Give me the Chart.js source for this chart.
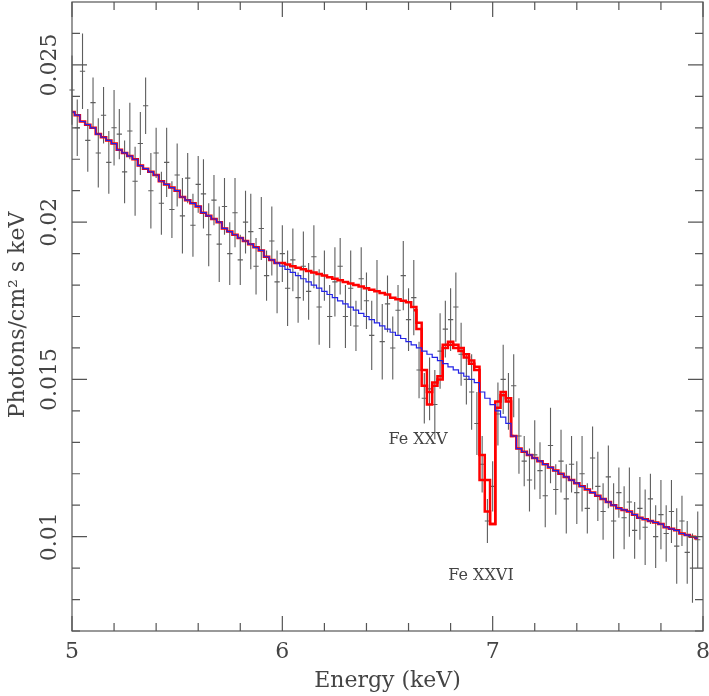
<!DOCTYPE html>
<html><head><meta charset="utf-8">
<script src="https://cdn.jsdelivr.net/npm/chart.js@4"></script>
<style>html,body{margin:0;padding:0;background:#fff}#w{width:709px;height:696px}</style>
</head><body><div id="w"><canvas id="c"></canvas></div>
<script>
// values in units of 1e-3 photons/cm^2 s keV, bins of 0.025 keV starting at 5.0
const energyStart = 5.0, binWidth = 0.025;
const dataVals = [24.2,23.0,24.8,22.6,23.8,22.2,23.4,21.9,23.0,22.8,21.6,22.9,21.3,22.5,23.7,21.0,22.2,20.6,21.9,20.4,
 21.5,20.2,21.4,19.9,21.2,20.9,19.6,20.7,19.3,20.5,19.0,20.3,18.8,20.0,19.7,18.6,19.8,18.3,19.4,18.1,
 19.0,17.9,18.8,17.6,18.6,17.8,18.9,17.3,18.3,17.0,18.1,18.6,17.0,17.9,16.7,18.2,17.5,16.4,17.8,16.2,
 17.4,16.0,17.2,18.3,16.9,17.6,15.3,14.4,14.7,14.2,15.9,16.6,16.9,17.3,15.8,15.0,14.6,13.6,12.3,10.5,
 11.6,13.9,15.0,14.3,14.8,13.2,12.4,11.8,12.6,12.1,11.3,12.9,11.5,12.4,11.2,12.3,11.4,12.0,10.9,12.5,
 11.6,10.8,11.9,10.5,11.4,10.6,11.1,10.2,10.9,10.3,11.2,10.0,10.7,10.1,10.8,9.7,10.5,9.5,9.0,9.9];
const dataErr = [1.1,0.9,1.2,1.0,0.8,1.1,0.9,1.0,1.2,0.8,1.0,0.9,1.1,1.0,0.9,1.2,0.8,1.0,1.1,0.9,
 1.0,1.2,0.8,1.0,0.9,1.1,1.0,0.8,1.2,0.9,1.0,1.1,0.8,1.0,1.2,0.9,1.0,0.8,1.1,1.0,
 0.9,1.2,1.0,0.8,1.1,0.9,1.0,1.2,0.8,1.0,1.1,0.9,1.0,1.2,0.8,1.0,0.9,1.1,1.0,1.2,
 0.9,1.0,0.8,1.1,1.0,1.2,0.9,0.8,1.0,1.1,1.2,0.9,1.0,1.1,1.0,0.8,1.2,1.0,0.9,0.7,
 0.8,1.0,1.1,0.9,1.0,1.2,0.8,1.0,1.1,0.9,1.0,1.2,0.8,1.0,1.1,0.9,1.0,1.2,0.8,1.0,
 1.1,0.9,1.0,1.2,0.8,1.0,1.1,0.9,1.0,1.2,0.8,1.0,1.1,0.9,1.0,1.2,0.8,1.0,1.1,0.9];
const blueModel = [23.5,23.4,23.2,23.1,23.0,22.8,22.7,22.6,22.5,22.3,22.2,22.1,22.0,21.8,21.7,21.6,21.5,21.3,21.2,21.1,
 21.0,20.8,20.7,20.6,20.5,20.3,20.2,20.1,20.0,19.8,19.7,19.6,19.5,19.4,19.3,19.2,19.1,18.9,18.8,18.7,
 18.6,18.5,18.4,18.3,18.2,18.1,18.0,17.9,17.8,17.7,17.6,17.5,17.4,17.3,17.2,17.1,17.0,16.9,16.8,16.7,
 16.6,16.5,16.4,16.3,16.2,16.1,16.0,15.9,15.8,15.7,15.6,15.5,15.4,15.3,15.2,15.1,15.0,14.9,14.6,14.4,
 14.2,14.0,13.8,13.6,13.2,12.8,12.7,12.6,12.5,12.4,12.3,12.2,12.1,12.0,11.9,11.8,11.7,11.6,11.5,11.4,
 11.3,11.2,11.1,11.0,10.9,10.85,10.8,10.7,10.6,10.55,10.5,10.45,10.4,10.3,10.25,10.2,10.1,10.05,10.0,9.95];
const redModelA = [23.5,23.4,23.2,23.1,23.0,22.8,22.7,22.6,22.5,22.3,22.2,22.1,22.0,21.8,21.7,21.6,21.5,21.3,21.2,21.1,
 21.0,20.8,20.7,20.6,20.5,20.3,20.2,20.1,20.0,19.8,19.7,19.6,19.5,19.4,19.3,19.2,19.1,18.9,18.8,18.7,
 18.7,18.65,18.6,18.55,18.5,18.45,18.4,18.35,18.3,18.25,18.2,18.15,18.1,18.05,18.0,17.95,17.9,17.85,17.8,17.75,
 17.7,17.6,17.55,17.5,17.45,17.3,16.8,15.3,14.6,14.9,15.0,16.1,16.2,16.1,16.0,15.8,15.6,15.4,12.6,11.8,
 10.4,14.3,14.5,14.4,13.2,12.8,12.7,12.6,12.5,12.4,12.3,12.2,12.1,12.0,11.9,11.8,11.7,11.6,11.5,11.4,
 11.3,11.2,11.1,11.0,10.9,10.85,10.8,10.7,10.6,10.55,10.5,10.45,10.4,10.3,10.25,10.2,10.1,10.05,10.0,9.95];
// second red component, only in the Fe line region, starting at bin index 65 (6.625 keV)
const redBStartIndex = 65;
const redModelB = [17.2,16.6,14.8,14.2,14.8,15.1,16.0,16.1,16.0,15.9,15.7,15.5,15.3,11.8,10.8,10.4,14.1,14.6,14.3,13.2];
const xTicksMajor = [5,6,7,8];
const yTicksMajor = [0.01,0.015,0.02,0.025];
const yTickLabels = ['0.01','0.015','0.02','0.025'];

const S = 1e-3;
const E = i => energyStart + i*binWidth;
const toPts = (arr, off=0) => arr.map((v,i)=>({x:E(i+off), y:v*S}));

const FONT = '"DejaVu Serif", serif';
const deco = {
  id:'deco',
  beforeDatasetsDraw(ch){
    const c=ch.ctx, x=ch.scales.x, y=ch.scales.y;
    c.save();
    c.strokeStyle='rgba(40,40,40,0.75)'; c.lineWidth=1.1;
    dataVals.forEach((v,i)=>{
      const px=x.getPixelForValue(E(i)), py=y.getPixelForValue(v*S);
      const x0=x.getPixelForValue(E(i)-binWidth/2), x1=x.getPixelForValue(E(i)+binWidth/2);
      const y0=y.getPixelForValue((v-dataErr[i])*S), y1=y.getPixelForValue((v+dataErr[i])*S);
      c.beginPath(); c.moveTo(x0,py); c.lineTo(x1,py); c.moveTo(px,y0); c.lineTo(px,y1); c.stroke();
    });
    c.restore();
  },
  afterDraw(ch){
    const c=ch.ctx, x=ch.scales.x, y=ch.scales.y, a=ch.chartArea;
    c.save();
    c.strokeStyle='#555'; c.lineWidth=1.2;
    c.strokeRect(a.left,a.top,a.right-a.left,a.bottom-a.top);
    c.beginPath();
    for(let k=0;k<=15;k++){
      const v=5+k*0.2, px=x.getPixelForValue(v);
      const L = (k%5===0)?15:8;
      c.moveTo(px,a.bottom); c.lineTo(px,a.bottom-L);
      c.moveTo(px,a.top); c.lineTo(px,a.top+L);
    }
    for(let k=7;k<=26;k++){
      const v=k*0.001, py=y.getPixelForValue(v);
      const L = (k%5===0)?15:8;
      c.moveTo(a.left,py); c.lineTo(a.left+L,py);
      c.moveTo(a.right,py); c.lineTo(a.right-L,py);
    }
    c.stroke();
    c.fillStyle='#444'; c.font='22px '+FONT; c.textAlign='center'; c.textBaseline='top';
    xTicksMajor.forEach(v=>c.fillText(String(v), x.getPixelForValue(v), a.bottom+10));
    yTicksMajor.forEach((v,i)=>{
      c.save(); c.translate(a.left-22, y.getPixelForValue(v)); c.rotate(-Math.PI/2);
      c.textBaseline='middle'; c.fillText(yTickLabels[i],0,0); c.restore();
    });
    c.font='22px '+FONT;
    c.fillText('Energy (keV)', (a.left+a.right)/2, 670);
    c.save(); c.translate(18, 315); c.rotate(-Math.PI/2); c.textBaseline='middle';
    c.fillText('Photons/cm\u00B2 s keV',0,0); c.restore();
    c.font='16px '+FONT; c.textBaseline='middle';
    c.fillText('Fe XXV', 418, 440);
    c.fillText('Fe XXVI', 481, 576);
    c.restore();
  }
};

new Chart(document.getElementById('c'), {
  type:'line',
  data:{datasets:[
    {data:toPts(blueModel), borderColor:'#2323e6', borderWidth:1.2, stepped:'middle', pointRadius:0, fill:false},
    {data:toPts(redModelB, redBStartIndex), borderColor:'#ff0000', borderWidth:2.5, stepped:'middle', pointRadius:0, fill:false},
    {data:toPts(redModelA), borderColor:'#ff0000', borderWidth:2.5, stepped:'middle', pointRadius:0, fill:false}
  ]},
  options:{
    responsive:true, maintainAspectRatio:false, animation:false,
    layout:{padding:{left:72,right:6,top:2,bottom:65}},
    plugins:{legend:{display:false}, tooltip:{enabled:false}},
    scales:{
      x:{type:'linear', min:5, max:8, display:false},
      y:{type:'linear', min:0.007, max:0.027, display:false}
    }
  },
  plugins:[deco]
});
</script></body></html>
